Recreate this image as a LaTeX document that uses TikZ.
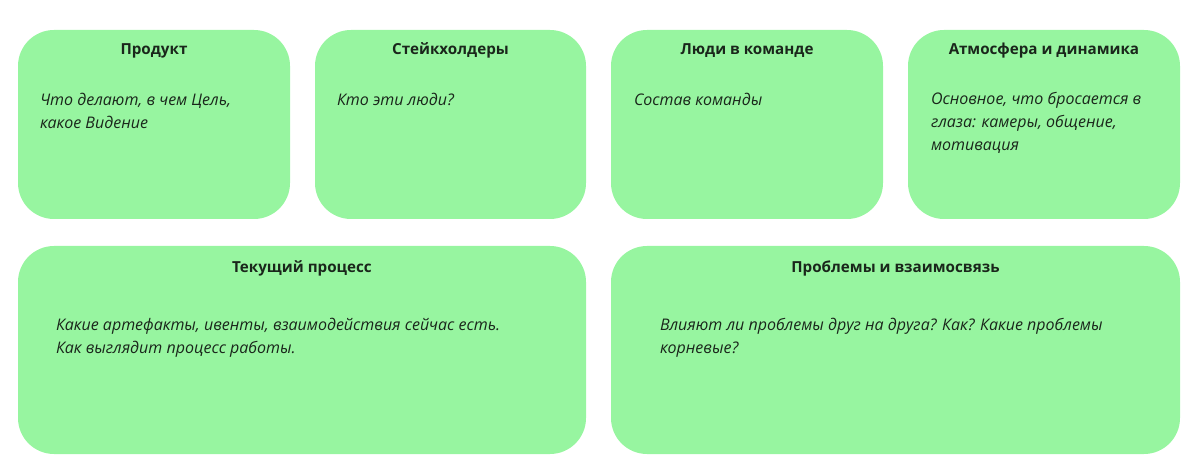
\documentclass[tikz,border=0pt]{standalone}
\usepackage{fontspec}
\setmainfont{Open Sans}
\definecolor{cardgreen}{HTML}{97F5A0}
\definecolor{cardtext}{HTML}{1A261B}

\tikzset{
    card/.style={fill=cardgreen, draw=none, rounded corners=36pt, inner sep=0pt},
    cardtitle/.style={font=\fontsize{15.2}{18}\selectfont\bfseries, text=cardtext, inner sep=0pt},
    cardbody/.style={font=\fontsize{16}{22.8}\selectfont\itshape, text=cardtext, align=left, inner sep=0pt, anchor=north west}
}

\begin{document}
\begin{tikzpicture}[x=1pt, y=-1pt]
    \useasboundingbox (0, 0) rectangle (1200, 470);
    % top row
    \node[card, minimum width=272pt, minimum height=189pt] (prod) at (154, 124.5) {};
    \node[card, minimum width=271pt, minimum height=189pt] (stake) at (450.5, 124.5) {};
    \node[card, minimum width=272pt, minimum height=189pt] (team) at (747, 124.5) {};
    \node[card, minimum width=272pt, minimum height=189pt] (atmo) at (1044, 124.5) {};
    % bottom row
    \node[card, minimum width=568pt, minimum height=208pt] (proc) at (302, 350) {};
    \node[card, minimum width=569pt, minimum height=208pt] (probl) at (895.5, 350) {};

    \node[cardtitle] (prod-t) at ([yshift=-21pt]prod.north) {Продукт};
    \node[cardtitle] (stake-t) at ([yshift=-21pt]stake.north) {Стейкхолдеры};
    \node[cardtitle] (team-t) at ([yshift=-21pt]team.north) {Люди в команде};
    \node[cardtitle] (atmo-t) at ([yshift=-21pt]atmo.north) {Атмосфера и динамика};
    \node[cardtitle] (proc-t) at ([yshift=-23pt]proc.north) {Текущий процесс};
    \node[cardtitle] (probl-t) at ([yshift=-23pt]probl.north) {Проблемы и взаимосвязь};

    % body texts: strut puts the top 16pt above the first baseline
    \node[cardbody] (prod-b) at ([xshift=22pt, yshift=-60pt]prod.north west) {\strut Что делают, в чем Цель,\\какое Видение};
    \node[cardbody] (stake-b) at ([xshift=22pt, yshift=-60pt]stake.north west) {\strut Кто эти люди?};
    \node[cardbody] (team-b) at ([xshift=23pt, yshift=-60pt]team.north west) {\strut Состав команды};
    \node[cardbody] (atmo-b) at ([xshift=23pt, yshift=-59pt]atmo.north west) {\strut Основное, что бросается в\\глаза: камеры, общение,\\мотивация};
    \node[cardbody] (proc-b) at ([xshift=38pt, yshift=-69pt]proc.north west) {\strut Какие артефакты, ивенты, взаимодействия сейчас есть.\\Как выглядит процесс работы.};
    \node[cardbody] (probl-b) at ([xshift=49pt, yshift=-69pt]probl.north west) {\strut Влияют ли проблемы друг на друга? Как? Какие проблемы\\корневые?};
\end{tikzpicture}
\end{document}
